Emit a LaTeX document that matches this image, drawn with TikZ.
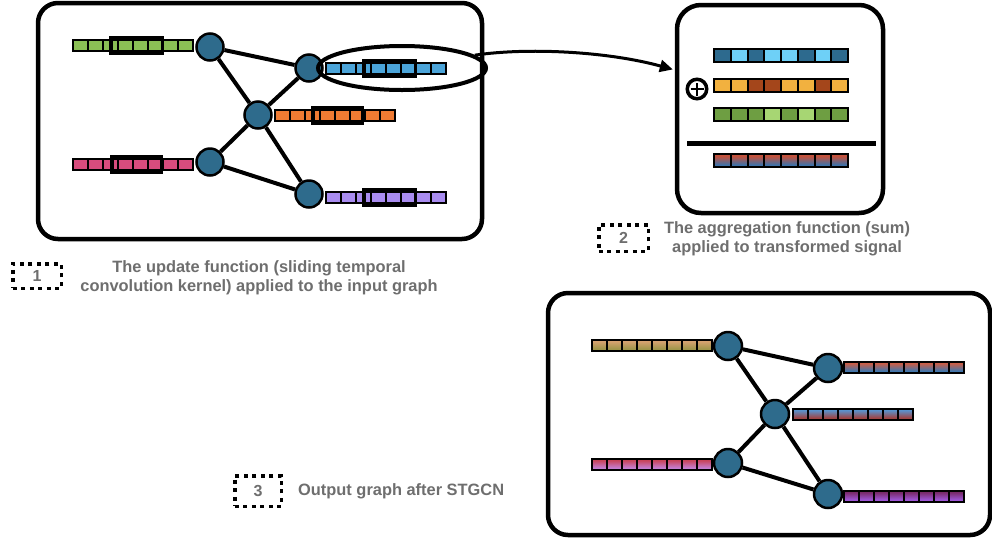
\documentclass[tikz,border=0pt]{standalone}
\usepackage{fontspec}
\setmainfont{Liberation Sans}
\usetikzlibrary{shapes.geometric,arrows.meta}

\definecolor{nodeblue}{HTML}{2E6B8C}
\definecolor{sigGreen}{HTML}{8BBF55}
\definecolor{sigBlue}{HTML}{4BA4D9}
\definecolor{sigOrange}{HTML}{F07B33}
\definecolor{sigPink}{HTML}{D74C7D}
\definecolor{sigPurple}{HTML}{A98CF0}
\definecolor{aggBlueD}{HTML}{2D6A8E}
\definecolor{aggBlueL}{HTML}{6ED0F7}
\definecolor{aggOrangeL}{HTML}{F2B13F}
\definecolor{aggBrown}{HTML}{A4461B}
\definecolor{aggGreenD}{HTML}{6E9E42}
\definecolor{aggGreenL}{HTML}{A7D673}
\definecolor{resTop}{HTML}{C4523C}
\definecolor{resBot}{HTML}{3C72AA}
\definecolor{labelgray}{HTML}{6E6E6E}
\definecolor{outATop}{HTML}{D6A270}
\definecolor{outABot}{HTML}{A0964A}
\definecolor{outBTop}{HTML}{CB5E46}
\definecolor{outBBot}{HTML}{4277AC}
\definecolor{outCTop}{HTML}{5A92CC}
\definecolor{outCBot}{HTML}{9E4444}
\definecolor{outDTop}{HTML}{C6445A}
\definecolor{outDBot}{HTML}{C47ED0}
\definecolor{outETop}{HTML}{782A6A}
\definecolor{outEBot}{HTML}{9E56D6}
\colorlet{fadeTopC}{red}
\colorlet{fadeBotC}{blue}

% two-tone vertical fade for the shaded cells
\pgfdeclareverticalshading[fadeTopC,fadeBotC]{cellfade}{100bp}{%
  color(0bp)=(fadeBotC); color(33bp)=(fadeBotC);
  color(67bp)=(fadeTopC); color(100bp)=(fadeTopC)}

\pgfdeclarelayer{bg}
\pgfsetlayers{bg,main}

% one signal of eight flat cells: x0, y centre, fill
\newcommand{\flatbar}[3]{%
  \foreach \k in {0,...,7}
    \draw[cellline, fill=#3] ({#1+\k*15},{#2-5.5}) rectangle ++(15,11);}
% one signal of eight shaded cells: x0, y centre, top colour, bottom colour
\newcommand{\fadebar}[4]{%
  \colorlet{fadeTopC}{#3}\colorlet{fadeBotC}{#4}%
  \foreach \k in {0,...,7}
    \draw[cellline, shading=cellfade] ({#1+\k*15},{#2-5.5}) rectangle ++(15,11);}
% temporal kernel frame: x left, x right, y centre
\newcommand{\kernelbox}[3]{%
  \draw[kernelline] (#1,{#3-7.75}) rectangle (#2,{#3+7.75});}
% row of the aggregation panel: y top, list of colours
\newcommand{\mixrow}[2]{%
  \foreach \c [count=\k from 0] in {#2}
    \draw[cellline, fill=\c] ({714+\k*16.75},#1) rectangle ++(16.75,13);}

\begin{document}
\begin{tikzpicture}[x=1pt,y=-1pt,
  panel/.style={draw=black, line width=4.5pt, rounded corners=20pt, fill=white, inner sep=0pt},
  gnode/.style={circle, draw=black, line width=2.5pt, fill=nodeblue, minimum size=27pt, inner sep=0pt},
  gnodeout/.style={gnode, minimum size=28pt},
  edge/.style={draw=black, line width=4pt},
  cellline/.style={draw=black, line width=2pt},
  kernelline/.style={draw=black, line width=3.5pt},
  tag/.style={draw=black, line width=3.5pt, dash pattern=on 4pt off 4.5pt,
    inner sep=0pt, text=labelgray, font=\bfseries\fontsize{16}{18}\selectfont},
  caption/.style={text=labelgray, font=\bfseries\fontsize{16.4}{18.5}\selectfont, inner sep=0pt}]
\useasboundingbox (0,0) rectangle (992,539);

% panels
\begin{pgfonlayer}{bg}
  \fill[white] (0,0) rectangle (992,539);
  \node[panel, minimum width=444pt, minimum height=236pt] (p1) at (260,121) {};
  \node[panel, rounded corners=24pt, minimum width=206pt, minimum height=208pt] (p2) at (780,109) {};
  \node[panel, minimum width=442pt, minimum height=242pt] (p3) at (769,414) {};
\end{pgfonlayer}

% input graph
\node[gnode] (a1) at (210,47) {};
\node[gnode] (b1) at (309,68) {};
\node[gnode] (c1) at (258,115) {};
\node[gnode] (d1) at (210,162) {};
\node[gnode] (e1) at (309,194) {};
\begin{pgfonlayer}{bg}
  \draw[edge] (a1) -- (b1);
  \draw[edge] (a1) -- (c1);
  \draw[edge] (b1) -- (c1);
  \draw[edge] (c1) -- (d1);
  \draw[edge] (c1) -- (e1);
  \draw[edge] (d1) -- (e1);
\end{pgfonlayer}

\flatbar{73}{45}{sigGreen}   \kernelbox{110.75}{162.25}{45}
\flatbar{326}{68}{sigBlue}   \kernelbox{363.75}{415.25}{68}
\flatbar{275}{115}{sigOrange}\kernelbox{312.75}{362.25}{115}
\flatbar{73}{164}{sigPink}   \kernelbox{111.75}{161.25}{164}
\flatbar{326}{197}{sigPurple}\kernelbox{363.75}{415.25}{197}

\node[ellipse, draw=black, line width=4pt, minimum width=168pt, minimum height=44pt, inner sep=0pt] (focus) at (402,68) {};
\draw[line width=3pt, -{Triangle[length=13pt,width=12pt]}, shorten >=2pt]
  (focus.10) .. controls (530,47) and (610,52) .. (p2.west |- 0,70);

% aggregation panel
\mixrow{49}{aggBlueD,aggBlueL,aggBlueD,aggBlueL,aggBlueL,aggBlueD,aggBlueL,aggBlueD}
\mixrow{79}{aggOrangeL,aggOrangeL,aggBrown,aggBrown,aggOrangeL,aggOrangeL,aggBrown,aggOrangeL}
\mixrow{108}{aggGreenD,aggGreenD,aggGreenD,aggGreenL,aggGreenD,aggGreenL,aggGreenD,aggGreenD}
\draw[line width=5pt] (687,143) -- (876,143);
\colorlet{fadeTopC}{resTop}\colorlet{fadeBotC}{resBot}
\foreach \k in {0,...,7}
  \draw[cellline, shading=cellfade] ({714+\k*16.75},154) rectangle ++(16.75,13);
\node[circle, draw=black, line width=3.5pt, fill=white, minimum size=19.5pt, inner sep=0pt] (plus) at (697,89) {};
\draw[line width=1.8pt] ([xshift=-6.5pt]plus.center) -- ([xshift=6.5pt]plus.center);
\draw[line width=1.8pt] ([yshift=-6.5pt]plus.center) -- ([yshift=6.5pt]plus.center);

% output graph
\node[gnodeout] (a3) at (728,346) {};
\node[gnodeout] (b3) at (828,368) {};
\node[gnodeout] (c3) at (775,414) {};
\node[gnodeout] (d3) at (728,463) {};
\node[gnodeout] (e3) at (828,494) {};
\begin{pgfonlayer}{bg}
  \draw[edge] (a3) -- (b3);
  \draw[edge] (a3) -- (c3);
  \draw[edge] (b3) -- (c3);
  \draw[edge] (c3) -- (d3);
  \draw[edge] (c3) -- (e3);
  \draw[edge] (d3) -- (e3);
\end{pgfonlayer}
\fadebar{592}{345}{outATop}{outABot}
\fadebar{844}{367}{outBTop}{outBBot}
\fadebar{793}{414}{outCTop}{outCBot}
\fadebar{592}{464}{outDTop}{outDBot}
\fadebar{844}{496}{outETop}{outEBot}

% captions
\node[tag, minimum width=48.5pt, minimum height=24.5pt] (t1) at (37,276) {1};
\node[caption, align=center] (cap1) at (259,278) {The update function (sliding temporal\\convolution kernel) applied to the input graph};
\node[tag, minimum width=49.5pt, minimum height=26.5pt] (t2) at (623.5,238) {2};
\node[caption, align=center] (cap2) at (787,239) {The aggregation function (sum)\\applied to transformed signal};
\node[tag, minimum width=46.5pt, minimum height=30.5pt] (t3) at (258,491) {3};
\node[caption, anchor=west] (cap3) at (298,491) {Output graph after STGCN};
\end{tikzpicture}
\end{document}
